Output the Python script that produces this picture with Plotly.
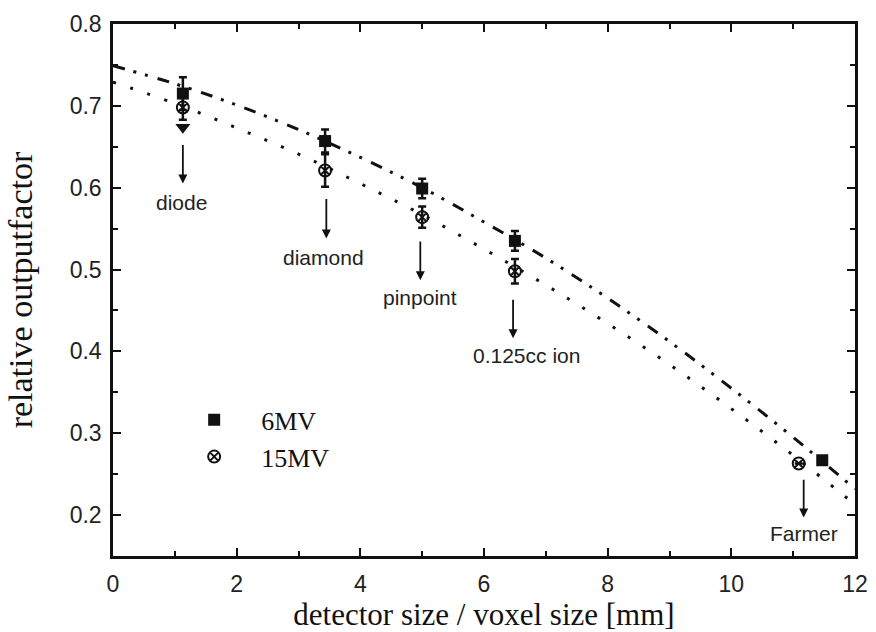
import plotly.graph_objects as go

# ---- data ----
fit_x = [0, 1, 2, 3, 4, 5, 6, 7, 8, 9, 10, 11, 12]
fit_6mv = [0.749, 0.727, 0.701, 0.671, 0.637, 0.600, 0.558, 0.514, 0.465, 0.412, 0.355, 0.295, 0.232]
fit_15mv = [0.729, 0.703, 0.673, 0.641, 0.605, 0.567, 0.525, 0.481, 0.434, 0.384, 0.330, 0.273, 0.213]

x_6mv = [1.13, 3.43, 5.0, 6.5, 11.47]
y_6mv = [0.715, 0.657, 0.599, 0.535, 0.267]
e_6mv = [0.020, 0.014, 0.012, 0.012, 0.0]

x_15mv = [1.13, 3.43, 5.0, 6.5, 11.09]
y_15mv = [0.698, 0.621, 0.564, 0.498, 0.263]
e_15mv = [0.015, 0.020, 0.013, 0.015, 0.0]

extra_x = [1.13]
extra_y = [0.674]

detectors = ["diode", "diamond", "pinpoint", "0.125cc ion", "Farmer"]
arrow_x = [1.13, 3.45, 4.97, 6.47, 11.17]
arrow_top = [0.654, 0.588, 0.536, 0.465, 0.245]
arrow_head = [0.605, 0.538, 0.487, 0.416, 0.197]
label_x = [1.10, 3.40, 4.97, 6.68, 11.18]
label_y = [0.582, 0.515, 0.466, 0.395, 0.178]

INK = "#111111"
SANS = "Liberation Sans, Arial, sans-serif"
SERIF = "Liberation Serif, Times New Roman, serif"

fig = go.Figure()

fig.add_trace(go.Scatter(
    x=fit_x, y=fit_6mv, mode="lines", line=dict(color=INK, width=3, shape="spline",
    dash="12px,9px,3px,9px,3px,10px"), showlegend=False, hoverinfo="skip"))
fig.add_trace(go.Scatter(
    x=fit_x, y=fit_15mv, mode="lines", line=dict(color=INK, width=3, shape="spline",
    dash="3px,15px"), showlegend=False, hoverinfo="skip"))

fig.add_trace(go.Scatter(
    x=x_6mv, y=y_6mv, mode="markers", name="6MV", legendgroup="a",
    marker=dict(symbol="square", size=12, color=INK),
    error_y=dict(type="data", array=e_6mv, color=INK, thickness=2.5, width=4)))
fig.add_trace(go.Scatter(
    x=x_15mv, y=y_15mv, mode="markers", name="15MV", legendgroup="b",
    marker=dict(symbol="circle-x-open", size=12, color=INK, line=dict(width=2, color=INK)),
    error_y=dict(type="data", array=e_15mv, color=INK, thickness=2.5, width=4)))
fig.add_trace(go.Scatter(
    x=extra_x, y=extra_y, mode="markers", showlegend=False,
    marker=dict(symbol="triangle-down", size=13, color=INK)))

for name, ax_, yt, yh, lx, ly in zip(detectors, arrow_x, arrow_top, arrow_head, label_x, label_y):
    fig.add_annotation(x=ax_, y=yh, ax=ax_, ay=yt, xref="x", yref="y", axref="x", ayref="y",
                       text="", showarrow=True, arrowhead=2, arrowsize=1, arrowwidth=1.8,
                       arrowcolor=INK)
    fig.add_annotation(x=lx, y=ly, xref="x", yref="y", text=name, showarrow=False,
                       font=dict(family=SANS, size=21, color="#222222"))

axis_common = dict(
    showline=True, linewidth=2.5, linecolor=INK, mirror="allticks",
    ticks="inside", ticklen=8, tickwidth=2, tickcolor=INK,
    showgrid=False, zeroline=False, automargin=False,
    tickfont=dict(family=SANS, size=23, color="#222222"),
)

fig.update_xaxes(range=[0, 12], dtick=2, tick0=0,
                 minor=dict(ticks="inside", ticklen=5, tickwidth=2, tickcolor=INK, dtick=1, showgrid=False),
                 title=dict(text="detector size / voxel size [mm]", font=dict(family=SERIF, size=31, color=INK), standoff=4),
                 ticklabelstandoff=6,
                 **axis_common)
fig.update_yaxes(range=[0.15, 0.8], dtick=0.1, tick0=0.2, tickformat=".1f",
                 minor=dict(ticks="inside", ticklen=5, tickwidth=2, tickcolor=INK, dtick=0.05, showgrid=False),
                 title=dict(text="relative outputfactor", font=dict(family=SERIF, size=34, color=INK), standoff=27),
                 ticklabelstandoff=4,
                 **axis_common)

fig.update_layout(
    width=876, height=632,
    margin=dict(l=113, r=21, t=24, b=76),
    paper_bgcolor="white", plot_bgcolor="white",
    legend=dict(x=0.073, y=0.30, xanchor="left", yanchor="top",
                font=dict(family=SERIF, size=26, color=INK),
                itemwidth=84, traceorder="grouped", tracegroupgap=0,
                bgcolor="rgba(0,0,0,0)"),
)

fig.write_html("out.html")
